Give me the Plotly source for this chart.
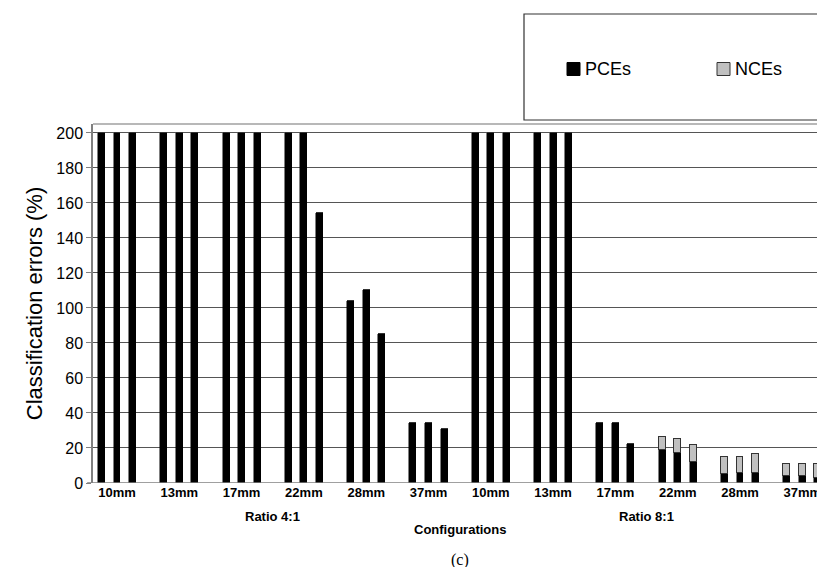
import plotly.graph_objects as go

# ---- data ----
groups = ["10mm", "13mm", "17mm", "22mm", "28mm", "37mm",
          "10mm", "13mm", "17mm", "22mm", "28mm", "37mm"]
pce = [
    [200, 200, 200], [200, 200, 200], [200, 200, 200], [200, 200, 154],
    [104, 110, 85], [34, 34, 31],
    [200, 200, 200], [200, 200, 200], [34, 34, 22], [19, 17, 12],
    [5, 6, 6], [4, 4, 3],
]
nce = [
    [0, 0, 0], [0, 0, 0], [0, 0, 0], [0, 0, 0], [0, 0, 0], [0, 0, 0],
    [0, 0, 0], [0, 0, 0], [0, 0, 0], [7, 8, 9.5],
    [10, 9, 10.7], [7, 7, 8],
]
series_names = ["PCEs", "NCEs"]
y_ticks = [0, 20, 40, 60, 80, 100, 120, 140, 160, 180, 200]

# ---- layout geometry (page body margin shifts the figure by 8px) ----
OFF = 8
W, H = 825, 567
ML, MR = 93 - OFF, 8
MT, MB = 124 - OFF, H - (483 - OFF)
plot_w = W - ML - MR
plot_h = H - MT - MB
offsets = [-0.25, 0.0, 0.25]
bar_w = 0.112
colors = ["black", "#c0c0c0"]
edges = ["black", "#333333"]

xs, ys_p, ys_n = [], [], []
for gi in range(len(groups)):
    for k in range(3):
        xs.append(gi + offsets[k])
        ys_p.append(pce[gi][k])
        ys_n.append(nce[gi][k])

fig = go.Figure()
fig.add_trace(go.Bar(x=xs, y=ys_p, width=bar_w, name=series_names[0], showlegend=False,
                     marker=dict(color=colors[0], line=dict(color=edges[0], width=0.5))))
fig.add_trace(go.Bar(x=xs, y=ys_n, width=bar_w, name=series_names[1], showlegend=False,
                     marker=dict(color=colors[1], line=dict(color=edges[1], width=1))))

def py(px):
    """screen y pixel -> paper coordinate"""
    return (H - MB - (px - OFF)) / plot_h

def pxx(px):
    """screen x pixel -> paper coordinate"""
    return ((px - OFF) - ML) / plot_w

font = "Liberation Sans, Arial, sans-serif"
pitch = 62.3
x0 = -((117 - 93) / pitch)
x1 = x0 + plot_w / pitch

fig.update_layout(
    width=W, height=H,
    margin=dict(l=ML, r=MR, t=MT, b=MB, autoexpand=False),
    barmode="stack",
    paper_bgcolor="white", plot_bgcolor="white",
    font=dict(family=font, color="black"),
    showlegend=False,
    xaxis=dict(range=[x0, x1], tickvals=list(range(len(groups))),
               ticktext=groups, showgrid=False, zeroline=False,
               showline=False, ticks="",
               tickfont=dict(size=13, family=font, weight="bold")),
    yaxis=dict(range=[0, 205.1], tickvals=y_ticks, showgrid=True,
               gridcolor="#555555", gridwidth=1, zeroline=False,
               showline=True, linecolor="#808080", linewidth=1.5,
               ticks="outside", ticklen=5, tickcolor="#808080",
               tickfont=dict(size=16, family=font),
               title=dict(text="Classification errors (%)", font=dict(size=22, family=font),
                          standoff=8)),
    bargap=0,
)

# x-axis line at 0
fig.add_shape(type="line", xref="paper", yref="y", x0=-0.008, x1=1, y0=0, y1=0,
              line=dict(color="#808080", width=1.5))
# top border of plot area
fig.add_shape(type="line", xref="paper", yref="paper", x0=0, x1=1, y0=1, y1=1,
              line=dict(color="#a0a0a0", width=1.5))
# legend box
fig.add_shape(type="rect", xref="paper", yref="paper",
              x0=pxx(524), x1=pxx(823), y0=py(120), y1=py(14),
              line=dict(color="#333333", width=1.2), fillcolor="rgba(0,0,0,0)")
# legend entries
leg_x = [567, 717]
for i, name in enumerate(series_names):
    fig.add_shape(type="rect", xref="paper", yref="paper",
                  x0=pxx(leg_x[i]), x1=pxx(leg_x[i] + 13), y0=py(75.5), y1=py(62.5),
                  line=dict(color=edges[i], width=1), fillcolor=colors[i])
    fig.add_annotation(text=name, x=pxx(leg_x[i] + 16), xref="paper", y=py(69), yref="paper",
                       showarrow=False, xanchor="left", yanchor="middle",
                       font=dict(size=18, family=font))

ann = [
    ("Ratio 4:1", 2.5, 517, 13, "bold", font),
    ("Configurations", 5.5, 529, 13, "bold", font),
    ("Ratio 8:1", 8.5, 517, 13, "bold", font),
    ("(c)", 5.5, 560, 16, "normal", "Liberation Serif, Times New Roman, serif"),
]
for text, xv, ypx, sz, wt, fam in ann:
    fig.add_annotation(text=text, x=xv, xref="x", y=py(ypx), yref="paper",
                       showarrow=False, font=dict(size=sz, weight=wt, family=fam),
                       xanchor="center", yanchor="middle")

fig.write_html("out.html")
